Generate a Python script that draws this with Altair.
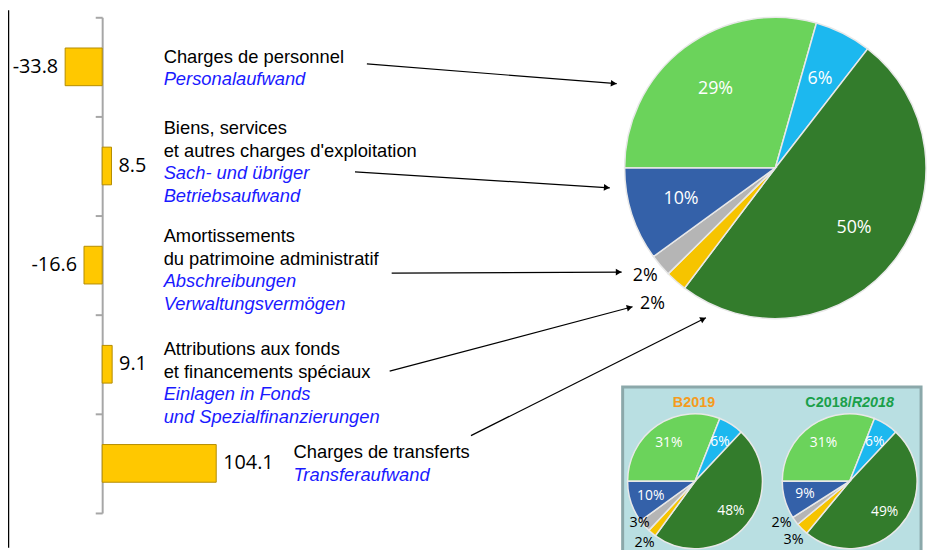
import math
import numpy as np
import pandas as pd
import altair as alt

# ---------------- data ----------------
bar_categories = [
    "Charges de personnel",
    "Biens, services et autres charges d'exploitation",
    "Amortissements du patrimoine administratif",
    "Attributions aux fonds et financements spéciaux",
    "Charges de transferts",
]
bar_values = [-33.8, 8.5, -16.6, 9.1, 104.1]

label_fr = [
    ["Charges de personnel"],
    ["Biens, services", "et autres charges d'exploitation"],
    ["Amortissements", "du patrimoine administratif"],
    ["Attributions aux fonds", "et financements spéciaux"],
    ["Charges de transferts"],
]
label_de = [
    ["Personalaufwand"],
    ["Sach- und übriger", "Betriebsaufwand"],
    ["Abschreibungen", "Verwaltungsvermögen"],
    ["Einlagen in Fonds", "und Spezialfinanzierungen"],
    ["Transferaufwand"],
]

pie_segments = [
    "Charges de personnel",
    "Autres charges",
    "Charges de transferts",
    "Attributions aux fonds",
    "Amortissements",
    "Biens, services",
]
main_shares = [29.4, 6.1, 49.8, 2.3, 2.4, 10.0]
b2019_shares = [31, 6, 48, 2, 3, 10]
c2018_shares = [31, 6, 49, 3, 2, 9]
inset_titles = ["B2019", "C2018/", "R2018"]

# ---------------- layout / style ----------------
pie_colors = ["#6bd35b", "#1cb8ef", "#337c2c", "#f6c400", "#b5b5b5", "#3461a9"]
FONT_TXT = "Liberation Sans"
FONT_NUM = "Open Sans"
W, H = 927, 542
zero_px, ppu = 95, 1.105
band_range = [7, 507]
label_x = [157, 157, 157, 157, 288]
label_top = [47, 119, 228, 342, 446]
line_step = 22.7
arrow_start = [(362, 54), (350, 163), (387, 265), (385, 364), (467, 429)]
arrow_end = [(614, 74), (607, 179), (619, 264), (630, 299), (704, 310)]

# ---------------- bars ----------------
bars_df = pd.DataFrame({"cat": bar_categories, "value": bar_values})
bars_df["lbl"] = [f"{v:.1f}" for v in bar_values]
xs = alt.Scale(domain=[-40, 110], range=[zero_px - 40 * ppu, zero_px + 110 * ppu])
ys = alt.Scale(domain=bar_categories, range=band_range, paddingInner=0, paddingOuter=0)
yax = alt.Axis(labels=False, title=None, ticks=True, tickBand="extent", tickSize=7,
               tickColor="#a6a6a6", tickWidth=2, domainColor="#a6a6a6", domainWidth=2,
               offset=-zero_px, grid=False)
X = alt.X("value:Q", scale=xs, axis=None)
Y = alt.Y("cat:N", scale=ys, sort=bar_categories, axis=yax)

bars = alt.Chart(bars_df).mark_bar(size=38, color="#ffc800", stroke="#b48c00", strokeWidth=1).encode(x=X, y=Y)
neg = alt.Chart(bars_df).transform_filter("datum.value < 0").mark_text(
    align="right", baseline="middle", dx=-7, font=FONT_NUM, fontSize=20, color="black"
).encode(x=X, y=Y, text="lbl:N")
pos = alt.Chart(bars_df).transform_filter("datum.value >= 0").mark_text(
    align="left", baseline="middle", dx=7, font=FONT_NUM, fontSize=20, color="black"
).encode(x=X, y=Y, text="lbl:N")
bar_layer = alt.layer(bars, neg, pos)

# ---------------- category labels ----------------
rows = []
for i in range(len(bar_categories)):
    n = 0
    for t in label_fr[i]:
        rows.append({"t": t, "x": label_x[i], "y": label_top[i] + n * line_step, "lang": "fr"})
        n += 1
    for t in label_de[i]:
        rows.append({"t": t, "x": label_x[i], "y": label_top[i] + n * line_step, "lang": "de"})
        n += 1
lab_df = pd.DataFrame(rows)
lab_fr = alt.Chart(lab_df).transform_filter("datum.lang == 'fr'").mark_text(
    align="left", baseline="middle", font=FONT_TXT, fontSize=18.5, color="black"
).encode(x=alt.X("x:Q", scale=None, axis=None), y=alt.Y("y:Q", scale=None, axis=None), text="t:N")
lab_de = alt.Chart(lab_df).transform_filter("datum.lang == 'de'").mark_text(
    align="left", baseline="middle", font=FONT_TXT, fontSize=18.5, color="#1a1aff", fontStyle="italic"
).encode(x=alt.X("x:Q", scale=None, axis=None), y=alt.Y("y:Q", scale=None, axis=None), text="t:N")

# ---------------- arrows ----------------
arr = []
for (x1, y1), (x2, y2) in zip(arrow_start, arrow_end):
    ang = math.degrees(math.atan2(y2 - y1, x2 - x1))
    L = math.hypot(x2 - x1, y2 - y1)
    ux, uy = (x2 - x1) / L, (y2 - y1) / L
    arr.append({"x1": x1, "y1": y1, "x2": x2, "y2": y2,
                "hx": x2 - 3 * ux, "hy": y2 - 3 * uy, "ang": ang % 360})
arr_df = pd.DataFrame(arr)
arrow_lines = alt.Chart(arr_df).mark_rule(color="black", strokeWidth=1.2).encode(
    x=alt.X("x1:Q", scale=None, axis=None), y=alt.Y("y1:Q", scale=None, axis=None),
    x2="x2:Q", y2="y2:Q")
arrow_heads = alt.Chart(arr_df).mark_point(shape="triangle-right", filled=True, size=45,
                                           color="black", opacity=1).encode(
    x=alt.X("hx:Q", scale=None, axis=None), y=alt.Y("hy:Q", scale=None, axis=None),
    angle=alt.Angle("ang:Q", scale=None))

# ---------------- pies ----------------
def pie(shares, cx, cy, r, r_in, fs, outer_specs, fs_out):
    """outer_specs: {segment index: (radius, dx, dy)} for the small outside labels"""
    df = pd.DataFrame({"seg": pie_segments, "share": shares, "idx": list(range(len(shares)))})
    lbl = [f"{round(s)}%" for s in shares]
    df["inner"] = [l if s >= 5 else "" for l, s in zip(lbl, shares)]
    theta = alt.Theta("share:Q", stack=True, scale=alt.Scale(range=[1.5 * math.pi, 3.5 * math.pi]))
    base = alt.Chart(df).encode(
        x=alt.value(cx), y=alt.value(cy), theta=theta,
        order=alt.Order("idx:Q"), detail="seg:N",
    )
    arc = base.mark_arc(outerRadius=r, stroke="#e8e8e8", strokeWidth=1.5).encode(
        color=alt.Color("seg:N", scale=alt.Scale(domain=pie_segments, range=pie_colors), legend=None))
    inner = base.mark_text(radius=r_in, font=FONT_NUM, fontSize=fs, color="white").encode(text="inner:N")
    layers = [arc, inner]
    for k, (rad, dx, dy) in outer_specs.items():
        col = f"o{k}"
        df[col] = [lbl[i] if i == k else "" for i in range(len(shares))]
        b2 = alt.Chart(df).encode(
            x=alt.value(cx), y=alt.value(cy), theta=theta,
            order=alt.Order("idx:Q"), detail="seg:N",
        )
        layers.append(b2.mark_text(radius=rad, dx=dx, dy=dy, font=FONT_NUM, fontSize=fs_out,
                                   color="black").encode(text=f"{col}:N"))
    return alt.layer(*layers)

main_pie = pie(main_shares, 774, 159, 152, 100, 18, {3: (182, -4, 0), 4: (172, 0, -2)}, 18)
pie_b = pie(b2019_shares, 693, 475, 68, 47, 14, {3: (80, 0, 1), 4: (72, -2, -5)}, 14.5)
pie_c = pie(c2018_shares, 849, 475, 68, 47, 14, {3: (80, 0, 3), 4: (80, -4, -5)}, 14.5)

# ---------------- inset box & titles ----------------
one = pd.DataFrame({"a": [0]})
box = alt.Chart(one).mark_rect(fill="#b9dfe2", stroke="#8ba8aa", strokeWidth=3).encode(
    x=alt.value(620), x2=alt.value(921), y=alt.value(380), y2=alt.value(560))
border = alt.Chart(one).mark_rule(color="black", strokeWidth=1.5).encode(
    x=alt.value(0.5), y=alt.value(0), y2=alt.value(H))
tdf = pd.DataFrame({"t": inset_titles})
t_b = alt.Chart(tdf).transform_filter(f"datum.t == '{inset_titles[0]}'").mark_text(
    align="center", baseline="middle", font=FONT_TXT, fontSize=14.5, fontWeight="bold", color="#f59b1c"
).encode(text="t:N", x=alt.value(692), y=alt.value(396))
t_c1 = alt.Chart(tdf).transform_filter(f"datum.t == '{inset_titles[1]}'").mark_text(
    align="right", baseline="middle", font=FONT_TXT, fontSize=14.5, fontWeight="bold", color="#19a04a"
).encode(text="t:N", x=alt.value(851), y=alt.value(396))
t_c2 = alt.Chart(tdf).transform_filter(f"datum.t == '{inset_titles[2]}'").mark_text(
    align="left", baseline="middle", font=FONT_TXT, fontSize=14.5, fontWeight="bold", fontStyle="italic",
    color="#19a04a"
).encode(text="t:N", x=alt.value(851), y=alt.value(396))

chart = alt.layer(
    box, pie_b, pie_c, t_b, t_c1, t_c2,
    main_pie, bar_layer, lab_fr, lab_de, arrow_lines, arrow_heads, border,
).resolve_scale(
    x="independent", y="independent", theta="independent"
).properties(
    width=W, height=H, padding=0, autosize=alt.AutoSizeParams(type="none"), background="white"
).configure_view(stroke=None)

chart.save("out.html", embed_options={"renderer": "svg", "actions": False})
